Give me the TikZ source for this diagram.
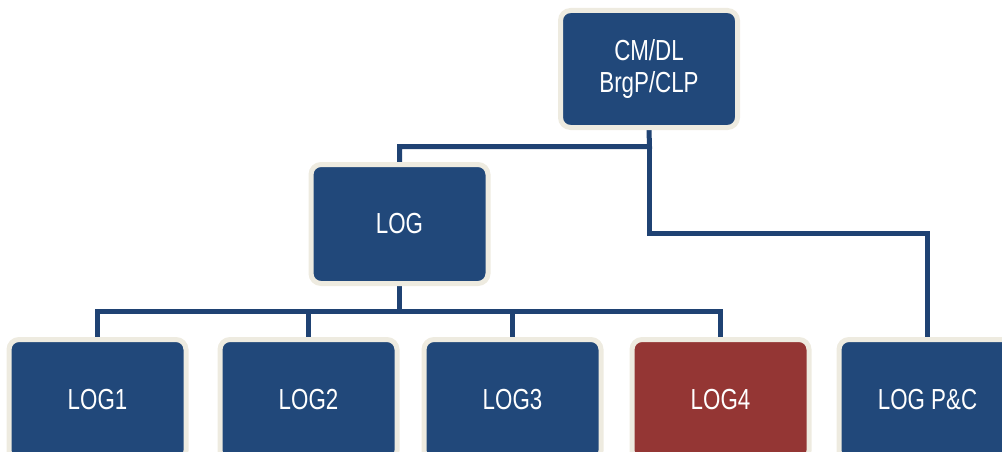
\documentclass[tikz,border=0pt]{standalone}
\usepackage{fontspec}
\setmainfont{Liberation Sans}[FakeStretch=0.77]
\definecolor{unitblue}{HTML}{21487A}
\definecolor{unitred}{HTML}{943634}
\definecolor{rimcream}{HTML}{EEEBE0}
\definecolor{linkblue}{HTML}{1F4273}
\pgfdeclarelayer{background}
\pgfsetlayers{background,main}
\tikzset{
  unit/.style={draw=rimcream, line width=5pt, fill=unitblue, rounded corners=10pt,
    text=white, font=\fontsize{29}{32}\selectfont, align=center,
    minimum width=177pt, inner sep=0pt},
  toplevel/.style={unit, minimum height=117pt},
  midlevel/.style={unit, minimum height=119pt},
  leaf/.style={unit, minimum height=121pt},
  flagged/.style={fill=unitred},
  link/.style={draw=linkblue, line width=5pt}
}
\begin{document}
\begin{tikzpicture}[x=1pt, y=-1pt]
  \useasboundingbox (0,0) rectangle (1002,452);
  \clip (0,0) rectangle (1002,452);

  % organisation units
  \node[toplevel] (head) at (649,69) {CM/DL\\BrgP/CLP};
  \node[midlevel] (log) at (399.5,224) {LOG};
  \node[leaf] (log1) at (97.5,400) {LOG1};
  \node[leaf] (log2) at (308.5,400) {LOG2};
  \node[leaf] (log3) at (512.5,400) {LOG3};
  \node[leaf, flagged] (log4) at (720.5,400) {LOG4};
  \node[leaf] (logpc) at (927.5,400) {LOG P\&C};

  % junction levels of the reporting lines
  \coordinate (busA) at (649.5,146.5);
  \coordinate (busB) at (649.5,233.5);
  \coordinate (busC) at (399.5,311.5);

  % reporting lines, kept beneath the units
  \begin{pgfonlayer}{background}
    \path[link] (head.south) -- (busA) -| (log.north);
    \path[link] (busA) -- (busB) -| (logpc.north);
    \path[link] (log.south) -- (busC);
    \path[link] (log1.north) |- (busC) -| (log4.north);
    \path[link] (log2.north) -- (log2.north |- busC);
    \path[link] (log3.north) -- (log3.north |- busC);
  \end{pgfonlayer}
\end{tikzpicture}
\end{document}
